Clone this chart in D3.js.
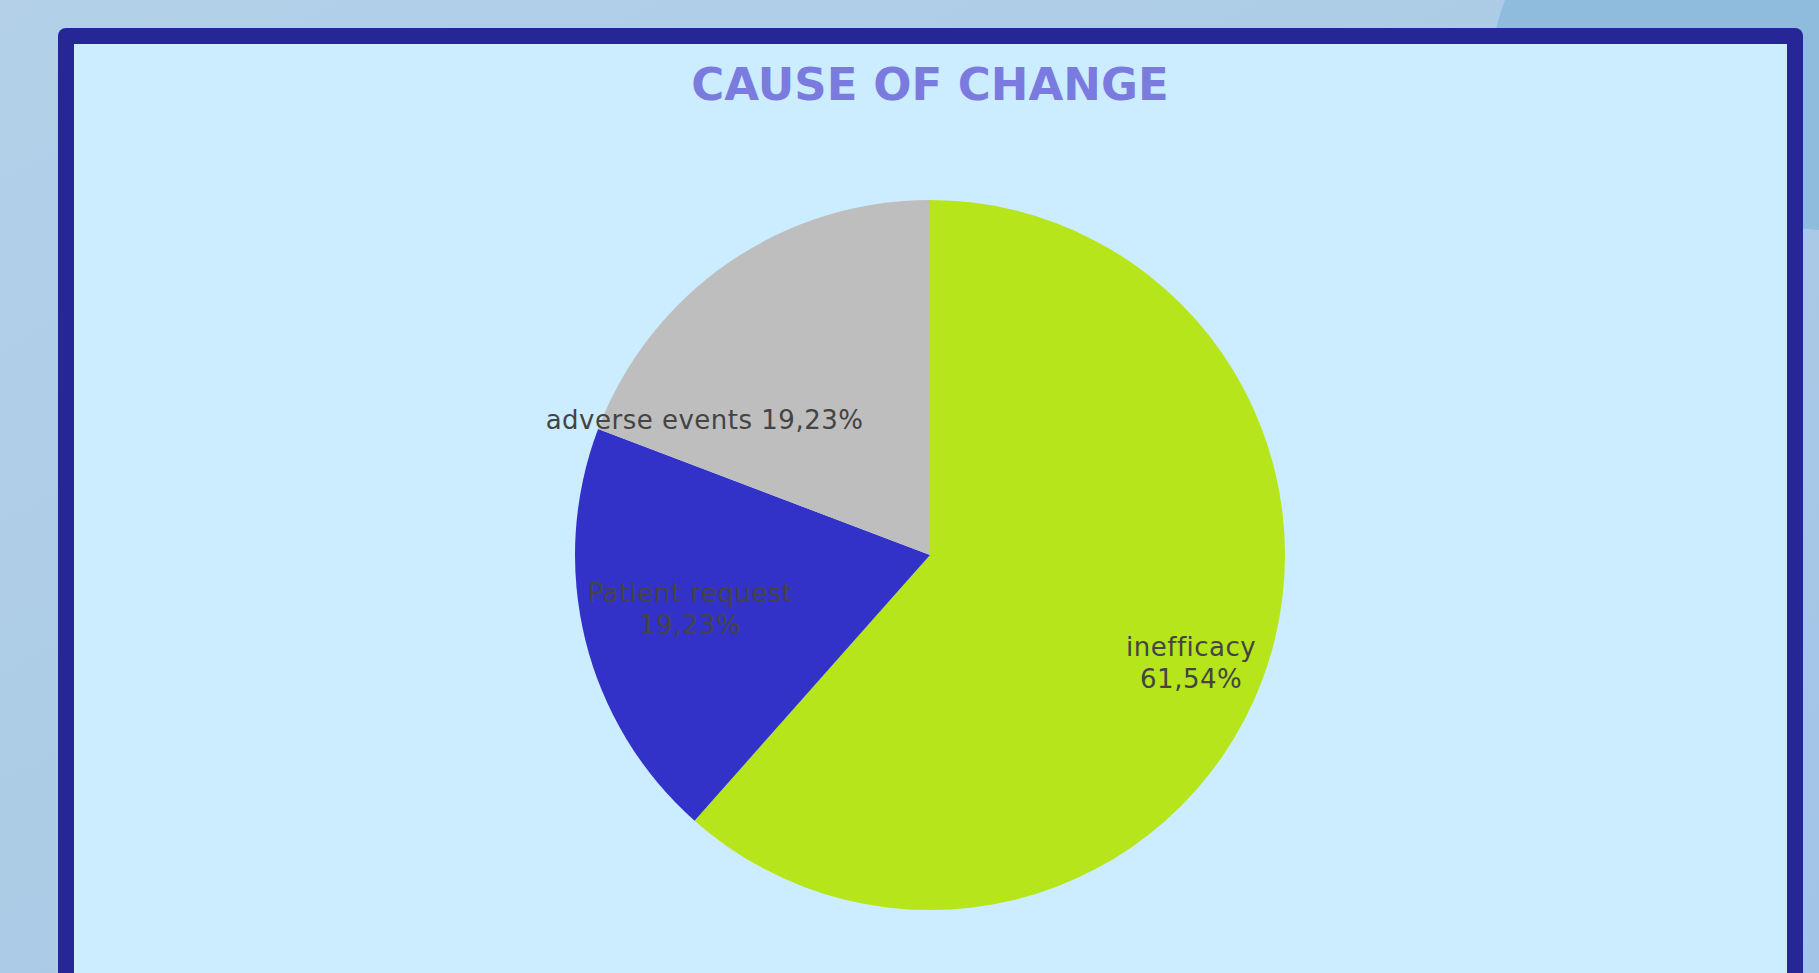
<!DOCTYPE html>
<html>
<head>
<meta charset="utf-8">
<script src="https://cdn.jsdelivr.net/npm/d3@7"></script>
<style>
  body { margin: 0; overflow: hidden; }
</style>
</head>
<body>
<script>
const width = 1819;
const height = 973;

// data
const categories = ["inefficacy", "Patient request", "adverse events"];
const values = [61.54, 19.23, 19.23];
const colors = ["#b5e51a", "#3232c9", "#bebebe"];
const labelLines = [["inefficacy", "61,54%"], ["Patient request", "19,23%"], ["adverse events 19,23%"]];

const title = "CAUSE OF CHANGE";

const svg = d3.select("body").append("svg")
    .attr("width", width)
    .attr("height", height);

const defs = svg.append("defs");
const bg = defs.append("linearGradient").attr("id", "bg")
    .attr("x1", "0%").attr("y1", "0%").attr("x2", "100%").attr("y2", "100%");
bg.append("stop").attr("offset", "0%").attr("stop-color", "#b3d0e8");
bg.append("stop").attr("offset", "50%").attr("stop-color", "#abcbe6");
bg.append("stop").attr("offset", "100%").attr("stop-color", "#a2c4e6");

svg.append("rect").attr("width", width).attr("height", height).attr("fill", "url(#bg)");
// darker sweep on the right
svg.append("path")
    .attr("d", "M1505,0 L1819,0 L1819,230 C1700,218 1580,195 1490,160 C1480,100 1490,40 1505,0 Z")
    .attr("fill", "#8fbbdd");

// frame
const frame = {x: 58, y: 28, w: 1745, h: 1000, border: 16};
svg.append("rect")
    .attr("x", frame.x).attr("y", frame.y)
    .attr("width", frame.w).attr("height", frame.h)
    .attr("rx", 8)
    .attr("fill", "#262696");
svg.append("rect")
    .attr("x", frame.x + frame.border).attr("y", frame.y + frame.border)
    .attr("width", frame.w - 2 * frame.border).attr("height", frame.h)
    .attr("fill", "#cbedff");

svg.append("text")
    .attr("x", 930).attr("y", 100)
    .attr("text-anchor", "middle")
    .style("font-family", "'DejaVu Sans', Verdana, sans-serif")
    .style("font-weight", "bold")
    .style("font-size", "45px")
    .style("fill", "#7b7bdf")
    .text(title);

// pie
const cx = 930, cy = 555, radius = 355;
const data = categories.map((c, i) => ({name: c, value: values[i], color: colors[i], lines: labelLines[i]}));

const pie = d3.pie().value(d => d.value).sort(null);
const arc = d3.arc().innerRadius(0).outerRadius(radius);
const arcs = pie(data);

const g = svg.append("g").attr("transform", `translate(${cx},${cy})`);

g.selectAll("path.slice")
    .data(arcs)
    .enter().append("path")
    .attr("class", "slice")
    .attr("d", arc)
    .attr("fill", d => d.data.color);

// label placement: radius fraction and angle shift (degrees) per slice
const labelLayout = [[0.796, 1.7], [0.693, 1.15], [0.74, -24.5]];
const lineH = 32;

g.selectAll("text.label")
    .data(arcs)
    .enter().append("text")
    .attr("class", "label")
    .attr("text-anchor", "middle")
    .style("font-family", "'DejaVu Sans', Verdana, sans-serif")
    .style("font-size", "26px")
    .style("letter-spacing", "0.5px")
    .style("fill", "#444444")
    .each(function(d, i) {
        const [f, shift] = labelLayout[i];
        const a = (d.startAngle + d.endAngle) / 2 + shift * Math.PI / 180;
        const r = radius * f;
        const x = r * Math.sin(a);
        const y = -r * Math.cos(a);
        const n = d.data.lines.length;
        const t = d3.select(this);
        d.data.lines.forEach((line, k) => {
            t.append("tspan")
                .attr("x", x)
                .attr("y", y + (k - (n - 1) / 2) * lineH)
                .attr("dy", "0.35em")
                .text(line);
        });
    });
</script>
</body>
</html>
